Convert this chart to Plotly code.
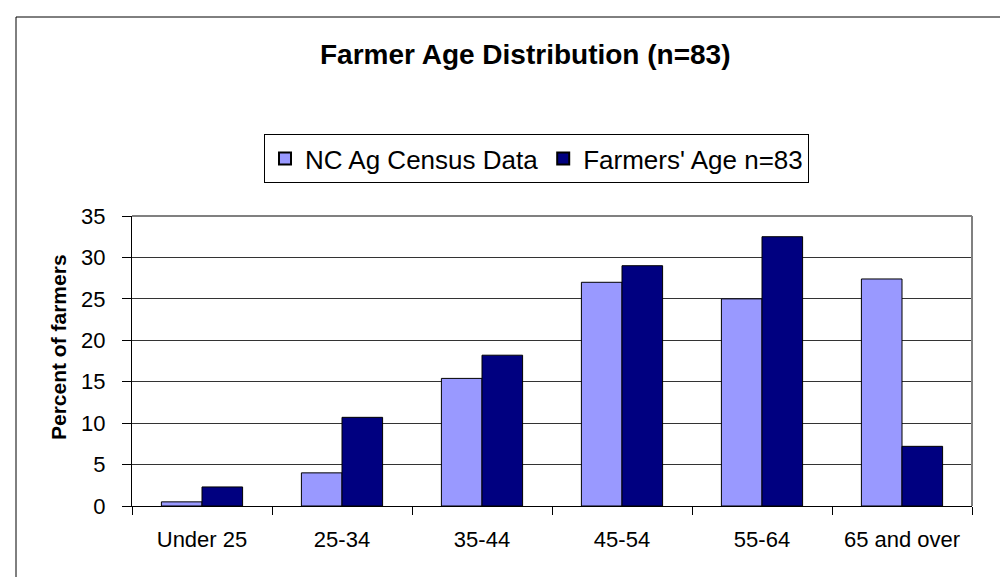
import plotly.graph_objects as go

categories = ["Under 25", "25-34", "35-44", "45-54", "55-64", "65 and over"]
census_values = [0.5, 4.0, 15.4, 27.0, 25.0, 27.4]
farmer_values = [2.3, 10.7, 18.2, 29.0, 32.5, 7.2]
y_ticks = [0, 5, 10, 15, 20, 25, 30, 35]

FONT = "Arial, Liberation Sans, sans-serif"
W, H = 1008, 577
L, R, T, B = 124, 44, 208, 79
pw, ph = W - L - R, H - T - B

fig = go.Figure()
fig.add_trace(go.Bar(x=categories, y=census_values, name="NC Ag Census Data",
                     marker=dict(color="#9999FF", line=dict(color="#000000", width=1))))
fig.add_trace(go.Bar(x=categories, y=farmer_values, name="Farmers' Age n=83",
                     marker=dict(color="#000080", line=dict(color="#000000", width=1))))

fig.update_layout(
    width=W, height=H,
    margin=dict(l=L, r=R, t=T, b=B, pad=0),
    paper_bgcolor="white", plot_bgcolor="white",
    barmode="group", bargap=0.42, bargroupgap=0,
    font=dict(family=FONT, size=22, color="#000000"),
    showlegend=True,
    legend=dict(orientation="h", x=(256 - L) / pw, y=(H - B - 126) / ph,
                xanchor="left", yanchor="top",
                bordercolor="#000000", borderwidth=1, bgcolor="white",
                font=dict(family=FONT, size=26, color="#000000"),
                itemsizing="constant", traceorder="normal"),
    xaxis=dict(showline=True, linecolor="#000000", linewidth=1,
               ticks="outside", ticklen=8, tickcolor="#000000", tickson="boundaries",
               ticklabelstandoff=14, showgrid=False,
               tickfont=dict(family=FONT, size=22, color="#000000"), mirror=False),
    yaxis=dict(range=[0, 35], tickvals=y_ticks, showline=True, linecolor="#000000", linewidth=1,
               ticks="outside", ticklen=9, tickcolor="#000000", ticklabelstandoff=12,
               showgrid=True, gridcolor="#333333", gridwidth=1, zeroline=False,
               tickfont=dict(family=FONT, size=22, color="#000000")),
    annotations=[
        dict(text="<b>Farmer Age Distribution (n=83)</b>", xref="paper", yref="paper",
             x=(517 - L) / pw, y=(H - B - 47) / ph, xanchor="center", yanchor="middle",
             showarrow=False, font=dict(family=FONT, size=28, color="#000000")),
        dict(text="<b>Percent of farmers</b>", xref="paper", yref="paper",
             x=(50 - L) / pw, y=(H - B - 339) / ph, xanchor="center", yanchor="middle",
             textangle=-90, showarrow=False, font=dict(family=FONT, size=21, color="#000000")),
    ],
    shapes=[
        dict(type="line", xref="paper", yref="paper", x0=0, x1=1, y0=1, y1=1,
             line=dict(color="#808080", width=2)),
        dict(type="line", xref="paper", yref="paper", x0=1, x1=1, y0=0, y1=1,
             line=dict(color="#808080", width=2)),
        dict(type="rect", xref="paper", yref="paper",
             x0=(8 - L) / pw, x1=(1012 - L) / pw, y0=(H - B - 582) / ph, y1=(H - B - 9) / ph,
             line=dict(color="#000000", width=1), layer="below"),
    ],
)

fig.write_html("out.html")
